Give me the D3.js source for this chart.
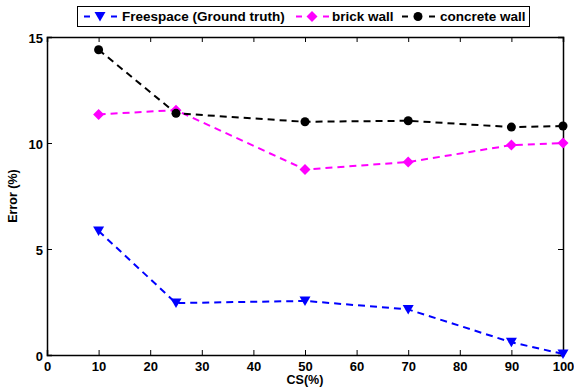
<!DOCTYPE html>
<html><head><meta charset="utf-8">
<script src="https://cdn.jsdelivr.net/npm/d3@7"></script>
<style>body{margin:0;background:#fff}svg{display:block}text{font-family:"Liberation Sans",Arial,sans-serif;font-weight:bold}</style>
</head><body><div id="chart"></div>
<script>
const csValues = [10, 25, 50, 70, 90, 100];
const freespace = [5.85, 2.45, 2.55, 2.15, 0.6, 0.05];
const brickWall = [11.35, 11.55, 8.75, 9.1, 9.9, 10.0];
const concreteWall = [14.4, 11.4, 11.0, 11.05, 10.75, 10.8];
const seriesNames = ["Freespace (Ground truth)", "brick wall", "concrete wall"];
const xTicks = [0,10,20,30,40,50,60,70,80,90,100];
const yTicks = [0,5,10,15];

const W = 574, H = 387;
const m = {l:47, r:11, t:37, b:32};
const svg = d3.select("#chart").append("svg").attr("width",W).attr("height",H);
const x = d3.scaleLinear().domain([0,100]).range([m.l, W-m.r]);
const y = d3.scaleLinear().domain([0,15]).range([H-m.b, m.t]);

const series = [
  {name:seriesNames[0], vals:freespace, color:"#0000ff", marker:"tri"},
  {name:seriesNames[1], vals:brickWall, color:"#ff00ff", marker:"dia"},
  {name:seriesNames[2], vals:concreteWall, color:"#000000", marker:"circ"}
];

function drawMarker(g, type, cx, cy, color){
  if(type==="tri"){
    g.append("path").attr("d", `M${cx-5.5},${cy-4.5}L${cx+5.5},${cy-4.5}L${cx},${cy+5}Z`).attr("fill",color);
  } else if(type==="dia"){
    g.append("path").attr("d", `M${cx},${cy-5.5}L${cx+5.5},${cy}L${cx},${cy+5.5}L${cx-5.5},${cy}Z`).attr("fill",color);
  } else {
    g.append("circle").attr("cx",cx).attr("cy",cy).attr("r",4.5).attr("fill",color);
  }
}

// axes box
const tl = 5;
const gx = svg.append("g").attr("transform",`translate(0,${H-m.b})`)
  .call(d3.axisBottom(x).tickValues(xTicks).tickSize(-tl).tickPadding(4).tickFormat(d3.format("d")));
const gxt = svg.append("g").attr("transform",`translate(0,${m.t})`)
  .call(d3.axisTop(x).tickValues(xTicks).tickSize(-tl).tickFormat(""));
const gy = svg.append("g").attr("transform",`translate(${m.l},0)`)
  .call(d3.axisLeft(y).tickValues(yTicks).tickSize(-tl).tickPadding(4).tickFormat(d3.format("d")));
const gyr = svg.append("g").attr("transform",`translate(${W-m.r},0)`)
  .call(d3.axisRight(y).tickValues(yTicks).tickSize(-tl).tickFormat(""));
[gx,gxt,gy,gyr].forEach(g=>{
  g.select(".domain").attr("stroke","#000").attr("stroke-width",1.5);
  g.selectAll(".tick line").attr("stroke","#000").attr("stroke-width",1);
  g.selectAll(".tick text").attr("font-size",13).attr("fill","#000");
});
gx.selectAll(".tick text").attr("dy","0.9em");
gy.selectAll(".tick text").attr("dy","0.4em");

svg.append("text").attr("x", x(50)).attr("y", H-3).attr("text-anchor","middle").attr("font-size",12.5).text("CS(%)");
svg.append("text").attr("transform",`translate(17,${y(7.5)}) rotate(-90)`).attr("text-anchor","middle").attr("font-size",12.5).text("Error (%)");

const line = d3.line().x((d,i)=>x(csValues[i])).y(d=>y(d));
series.forEach(s=>{
  svg.append("path").datum(s.vals).attr("d",line).attr("fill","none")
    .attr("stroke",s.color).attr("stroke-width",2).attr("stroke-dasharray","7,5");
  const g = svg.append("g");
  s.vals.forEach((v,i)=>drawMarker(g, s.marker, x(csValues[i]), y(v), s.color));
});

// legend
const lg = svg.append("g");
lg.append("rect").attr("x",77.5).attr("y",6.5).attr("width",452).attr("height",20).attr("fill","#fff").attr("stroke","#000").attr("stroke-width",1);
const entries = [
  {mx:100, tx:122},
  {mx:312, tx:332},
  {mx:418, tx:440}
];
series.forEach((s,i)=>{
  const e = entries[i];
  const cy = 16.5;
  lg.append("line").attr("x1",e.mx-16).attr("x2",e.mx-10).attr("y1",cy).attr("y2",cy).attr("stroke",s.color).attr("stroke-width",2);
  lg.append("line").attr("x1",e.mx+11).attr("x2",e.mx+17).attr("y1",cy).attr("y2",cy).attr("stroke",s.color).attr("stroke-width",2);
  drawMarker(lg, s.marker, e.mx, cy, s.color);
  lg.append("text").attr("x",e.tx).attr("y",cy+4.5).attr("font-size",13.5).text(s.name);
});
</script></body></html>
